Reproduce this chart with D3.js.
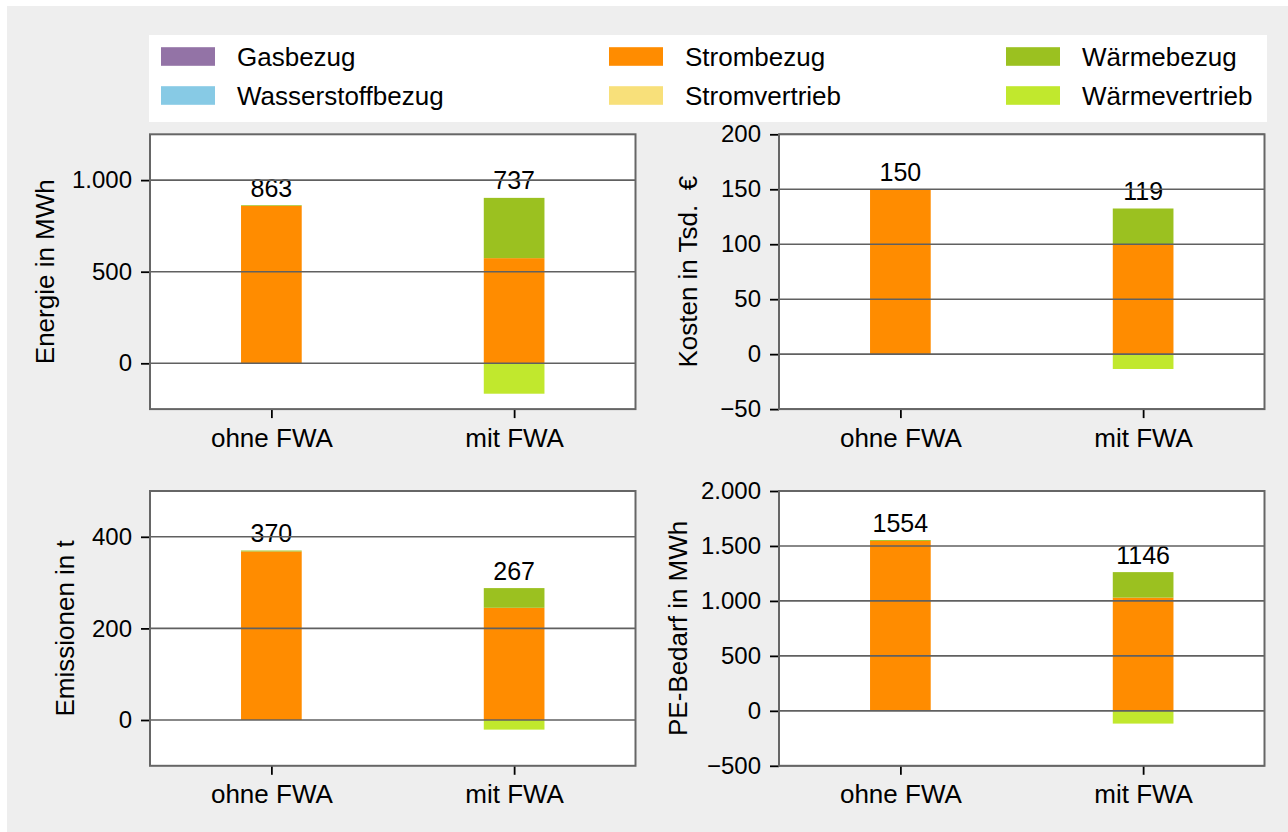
<!DOCTYPE html>
<html>
<head>
<meta charset="utf-8">
<script src="https://cdn.jsdelivr.net/npm/d3@7"></script>
<style>
  html, body { margin: 0; padding: 0; background: #ffffff; }
  svg { display: block; }
  text { font-family: "Liberation Sans", Arial, Helvetica, sans-serif; fill: #000; }
</style>
</head>
<body>
<svg id="chart" width="1288" height="832"></svg>
<script>
// Scenario categories on the x axis
const categories = ["ohne FWA", "mit FWA"];

// Energy carriers (stack order) and their colours
const seriesNames = ["Gasbezug", "Wasserstoffbezug", "Strombezug", "Stromvertrieb", "Wärmebezug", "Wärmevertrieb"];
const seriesColors = ["#9373a6", "#87cae5", "#ff8c00", "#f8e07a", "#9bc120", "#c1e82d"];

// Values per category, one entry per carrier (same order as seriesNames)
const energieMWh   = [[0, 0, 859, 0, 4, 0],   [0, 0, 574, 0, 329, -166]];
const kostenTsdEur = [[0, 0, 150, 0, 0, 0],   [0, 0, 100, 0, 32.5, -13.5]];
const emissionenT  = [[0, 0, 368, 0, 2, 0],   [0, 0, 245, 0, 43, -21]];
const peBedarfMWh  = [[0, 0, 1546, 0, 8, 0],  [0, 0, 1030, 0, 232, -116]];

// Axis ranges and tick values
const energieDomain = [-250, 1250],  energieTicks = [0, 500, 1000];
const kostenDomain = [-50, 200],     kostenTicks = [-50, 0, 50, 100, 150, 200];
const emissionenDomain = [-100, 500], emissionenTicks = [0, 200, 400];
const peDomain = [-500, 2000],       peTicks = [-500, 0, 500, 1000, 1500, 2000];

const de = d3.formatLocale({decimal: ",", thousands: ".", grouping: [3], currency: ["", " €"], minus: "\u2212"});
const fmtTick = de.format(",d");

const svg = d3.select("#chart");

// figure background
svg.append("rect").attr("x", 7).attr("y", 6).attr("width", 1281).attr("height", 826).attr("fill", "#eeeeee");

// Legend
const legend = svg.append("g");
legend.append("rect").attr("x", 149).attr("y", 35).attr("width", 1118).attr("height", 87).attr("fill", "#ffffff");
const legendCols = [161, 609, 1006];
const legendRows = [56.5, 95.5];
seriesNames.forEach((name, i) => {
  const col = Math.floor(i / 2), row = i % 2;
  const g = legend.append("g").attr("transform", `translate(${legendCols[col]},${legendRows[row]})`);
  g.append("rect").attr("x", 0).attr("y", -9.3).attr("width", 54).attr("height", 18.6).attr("fill", seriesColors[i]);
  g.append("text").attr("x", 76).attr("y", 9.3).attr("font-size", 26).text(name);
});

const panels = [
  {data: energieMWh,   domain: energieDomain,    ticks: energieTicks,    label: "Energie in MWh",    x0: 150, y0: 134.3, labelX: 45},
  {data: kostenTsdEur, domain: kostenDomain,     ticks: kostenTicks,     label: "Kosten in Tsd.  €", x0: 779, y0: 134.3, labelX: 688},
  {data: emissionenT,  domain: emissionenDomain, ticks: emissionenTicks, label: "Emissionen in t",   x0: 150, y0: 491,   labelX: 65},
  {data: peBedarfMWh,  domain: peDomain,         ticks: peTicks,         label: "PE-Bedarf in MWh",  x0: 779, y0: 491,   labelX: 678}
];
const W = 485.5, H = 274.8;
const gridColor = "#606060";

panels.forEach(p => {
  const g = svg.append("g").attr("transform", `translate(${p.x0},${p.y0})`);
  const x = d3.scaleLinear().domain([-0.5, 1.5]).range([0, W]);
  const y = d3.scaleLinear().domain(p.domain).range([H, 0]);
  const barW = x(0.25) - x(0);

  g.append("rect").attr("width", W).attr("height", H).attr("fill", "#ffffff");

  // stacked bars: positives upward, negatives downward
  categories.forEach((cat, ci) => {
    let pos = 0, neg = 0;
    p.data[ci].forEach((v, si) => {
      if (v === 0) return;
      let lo, hi;
      if (v > 0) { lo = pos; hi = pos + v; pos = hi; }
      else { hi = neg; lo = neg + v; neg = lo; }
      g.append("rect")
        .attr("x", x(ci) - barW / 2).attr("width", barW)
        .attr("y", y(hi)).attr("height", y(lo) - y(hi))
        .attr("fill", seriesColors[si]);
    });
    const total = d3.sum(p.data[ci]);
    g.append("text")
      .attr("x", x(ci)).attr("y", y(pos) - 8.5)
      .attr("text-anchor", "middle").attr("font-size", 25)
      .text(Math.round(total));
  });

  // horizontal grid lines
  g.selectAll("line.grid").data(p.ticks).join("line")
    .attr("x1", 0).attr("x2", W)
    .attr("y1", d => y(d)).attr("y2", d => y(d))
    .attr("stroke", gridColor).attr("stroke-width", 1.6);

  // y axis
  const yAxis = g.append("g").call(d3.axisLeft(y).tickValues(p.ticks).tickFormat(fmtTick).tickSize(9).tickPadding(9));
  yAxis.select(".domain").remove();
  yAxis.selectAll(".tick line").attr("stroke", "#000").attr("stroke-width", 1.8);
  yAxis.selectAll(".tick text").attr("font-size", 24).attr("font-family", "Liberation Sans, Arial, sans-serif").attr("fill", "#000");

  // x axis
  const xAxis = g.append("g").attr("transform", `translate(0,${H})`)
    .call(d3.axisBottom(x).tickValues([0, 1]).tickFormat(i => categories[i]).tickSize(9).tickPadding(10));
  xAxis.select(".domain").remove();
  xAxis.selectAll(".tick line").attr("stroke", "#000").attr("stroke-width", 1.8);
  xAxis.selectAll(".tick text").attr("font-size", 26).attr("font-family", "Liberation Sans, Arial, sans-serif").attr("fill", "#000");

  // frame
  g.append("rect").attr("width", W).attr("height", H).attr("fill", "none").attr("stroke", "#666666").attr("stroke-width", 2);

  // y label
  svg.append("text")
    .attr("transform", `translate(${p.labelX},${p.y0 + H / 2}) rotate(-90)`)
    .attr("text-anchor", "middle").attr("dominant-baseline", "central")
    .attr("font-size", 26).style("white-space", "pre")
    .text(p.label);
});
</script>
</body>
</html>
